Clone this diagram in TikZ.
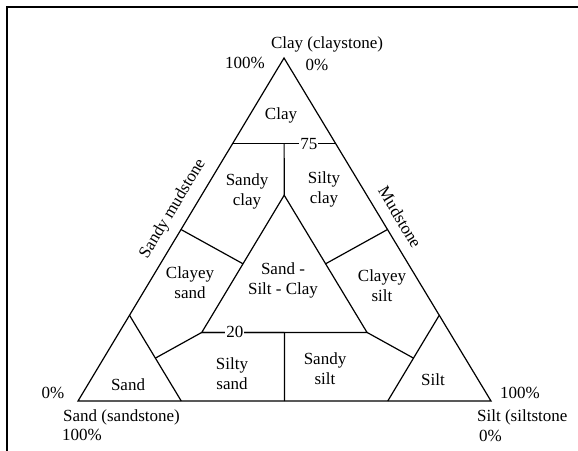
\documentclass[tikz,border=0pt]{standalone}
\usepackage{fontspec}
\setmainfont{Liberation Serif}
\begin{document}
\begin{tikzpicture}[x=1pt,y=-1pt,
  edge/.style={line width=1.2pt, line join=miter},
  lbl/.style={font=\fontsize{17}{20}\selectfont, align=center, inner sep=0pt},
  tick/.style={font=\fontsize{17}{20}\selectfont, fill=white, inner sep=1pt}]
\useasboundingbox (0,0) rectangle (578,450);
\draw[line width=2.6pt] (7,452) -- (7,7) -- (580,7);
% vertices
\coordinate (A) at (78,401);
\coordinate (B) at (491,401);
\coordinate (C) at (284,58);
% ternary points
\coordinate (c75L) at (barycentric cs:A=0.25,C=0.75);
\coordinate (c75R) at (barycentric cs:B=0.25,C=0.75);
\coordinate (c75M) at (barycentric cs:A=0.125,B=0.125,C=0.75);
\coordinate (iT) at (barycentric cs:A=0.2,B=0.2,C=0.6);
\coordinate (iL) at (barycentric cs:A=0.6,B=0.2,C=0.2);
\coordinate (iR) at (barycentric cs:A=0.2,B=0.6,C=0.2);
\coordinate (mL1) at (barycentric cs:A=0.5,C=0.5);
\coordinate (mL2) at (barycentric cs:A=0.4,B=0.2,C=0.4);
\coordinate (mR1) at (barycentric cs:B=0.5,C=0.5);
\coordinate (mR2) at (barycentric cs:A=0.2,B=0.4,C=0.4);
\coordinate (sT) at (barycentric cs:A=0.75,C=0.25);
\coordinate (sB) at (barycentric cs:A=0.75,B=0.25);
\coordinate (sM) at (barycentric cs:A=0.75,B=0.125,C=0.125);
\coordinate (tT) at (barycentric cs:B=0.75,C=0.25);
\coordinate (tB) at (barycentric cs:A=0.25,B=0.75);
\coordinate (tM) at (barycentric cs:A=0.125,B=0.75,C=0.125);
\coordinate (bM) at (barycentric cs:A=0.5,B=0.5);
\coordinate (bU) at (barycentric cs:A=0.4,B=0.4,C=0.2);
% lines
\draw[edge] (A) -- (B) -- (C) -- cycle;
\draw[edge] (c75L) -- (c75R) node[tick, pos=0.74] (t75) {75};
\draw[edge] (c75M) -- (iT);
\draw[edge] (iT) -- (iL) -- (iR) -- cycle;
\draw[edge] (iL) -- (bU) node[tick, pos=0.4] (t20) {20};
\draw[edge] (mL1) -- (mL2);
\draw[edge] (mR1) -- (mR2);
\draw[edge] (sT) -- (sB);
\draw[edge] (tT) -- (tB);
\draw[edge] (sM) -- (iL);
\draw[edge] (tM) -- (iR);
\draw[edge] (bM) -- (bU);
% corner labels
\node[lbl] (clayTitle) at (327,44) {Clay (claystone)};
\node[lbl] (p100a) at (245,63) {100\%};
\node[lbl] (p0a) at (317,65) {0\%};
\node[lbl] (p0b) at (53,393) {0\%};
\node[lbl, anchor=west] (sandTitle) at (63,417) {Sand (sandstone)};
\node[lbl, anchor=west] (p100b) at (62,435) {100\%};
\node[lbl, anchor=west] (p100c) at (500,393) {100\%};
\node[lbl, anchor=west] (siltTitle) at (477,417) {Silt (siltstone};
\node[lbl, anchor=west] (p0c) at (479,436) {0\%};
% side labels
\node[lbl, rotate=59] (sm) at (173,209) {Sandy mudstone};
\node[lbl, rotate=-59] (ms) at (400,217) {Mudstone};
% region labels
\node[lbl] (rClay) at (281,115) {Clay};
\node[lbl] (rSandyClay) at (247,191) {Sandy\\clay};
\node[lbl] (rSiltyClay) at (324,189) {Silty\\clay};
\node[lbl] (rClayeySand) at (190,283) {Clayey\\sand};
\node[lbl] (rSSC) at (283,280) {Sand -\\Silt - Clay};
\node[lbl] (rClayeySilt) at (382,286) {Clayey\\silt};
\node[lbl] (rSiltySand) at (232,374) {Silty\\sand};
\node[lbl] (rSandySilt) at (325,369) {Sandy\\silt};
\node[lbl] (rSand) at (128,385) {Sand};
\node[lbl] (rSilt) at (433,380) {Silt};
\end{tikzpicture}
\end{document}
